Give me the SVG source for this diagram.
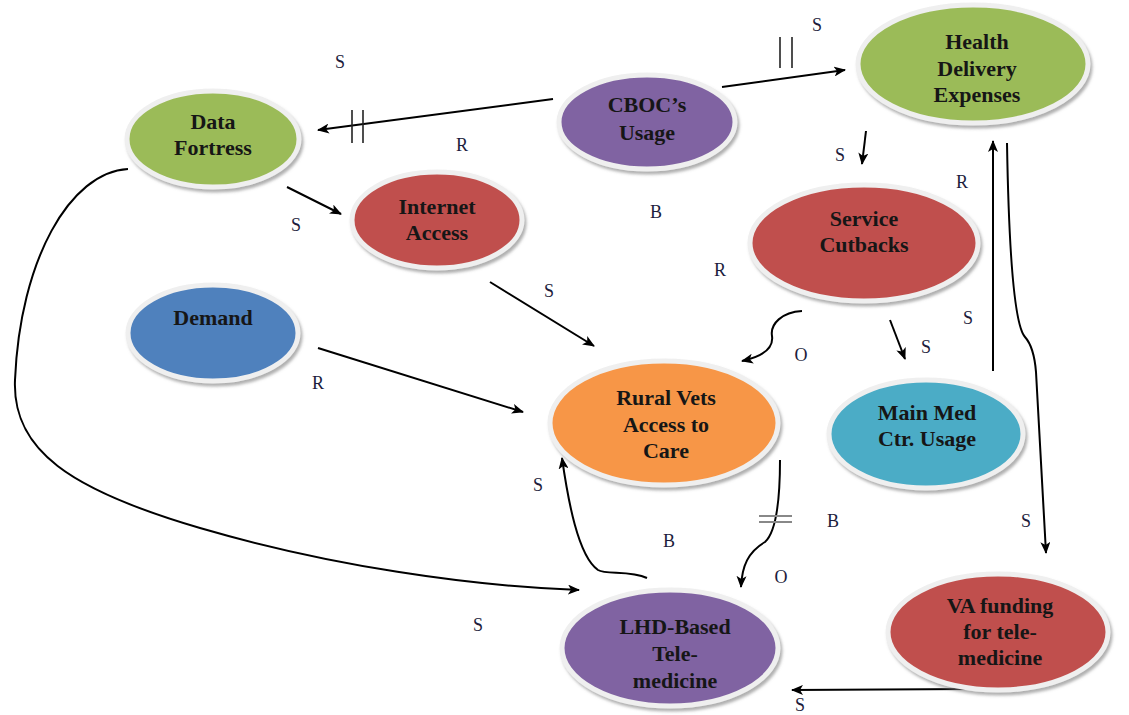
<svg xmlns="http://www.w3.org/2000/svg" width="1129" height="715" viewBox="0 0 1129 715">
<defs>
<marker id="ah" viewBox="0 0 12 10" refX="11" refY="5" markerWidth="12" markerHeight="10" markerUnits="userSpaceOnUse" orient="auto">
<path d="M0,0 L12,5 L0,10 L3,5 Z" fill="#000"/>
</marker>
<filter id="sh" x="-10%" y="-10%" width="125%" height="130%">
<feDropShadow dx="2" dy="3" stdDeviation="1.5" flood-color="#7a7a7a" flood-opacity="0.6"/>
</filter>
</defs>
<style>
.n{stroke:#efefef;stroke-width:5;filter:url(#sh)}
.t{font-family:"Liberation Serif","Times New Roman",serif;font-weight:bold;font-size:22px;fill:#161616;text-anchor:middle}
.l{font-family:"Liberation Serif","Times New Roman",serif;font-size:18px;fill:#1c1c3c;text-anchor:middle}
.c{fill:none;stroke:#000;stroke-width:2}
.h{stroke:#222;stroke-width:1.6}
</style>
<rect width="1129" height="715" fill="#fff"/>
<g id="connectors">
<path class="c" d="M553,99 L318,130" marker-end="url(#ah)"/>
<line class="h" x1="352" y1="110" x2="352" y2="143"/>
<line class="h" x1="363" y1="110" x2="363" y2="143"/>
<path class="c" d="M722,87 L845,70" marker-end="url(#ah)"/>
<line class="h" x1="780" y1="37" x2="780" y2="68"/>
<line class="h" x1="792" y1="37" x2="792" y2="68"/>
<path class="c" d="M287,187 L341,214" marker-end="url(#ah)"/>
<path class="c" d="M866,131 L862,164" marker-end="url(#ah)"/>
<path class="c" d="M490,282 L594,346" marker-end="url(#ah)"/>
<path class="c" d="M318,348 L523,412" marker-end="url(#ah)"/>
<path class="c" d="M802,311 C782,312 770,324 772,336 C774,350 760,357 742,361" marker-end="url(#ah)"/>
<path class="c" d="M890,320 L905,359" marker-end="url(#ah)"/>
<path class="c" d="M993,371 L993,141" marker-end="url(#ah)"/>
<path class="c" d="M1007,143 Q1010,320 1025,337 Q1034,347 1036,372 L1046,553" marker-end="url(#ah)"/>
<path class="c" d="M973,689 L792,690" marker-end="url(#ah)"/>
<path class="c" d="M780,460 C780,500 776,532 765,542 C748,552 742,566 741,587" marker-end="url(#ah)"/>
<line x1="759" y1="516" x2="792" y2="516" stroke="#888" stroke-width="2"/>
<line x1="759" y1="522" x2="792" y2="522" stroke="#888" stroke-width="2"/>
<path class="c" d="M647,578 C630,570 606,575 598,570 C578,556 568,500 562,458" marker-end="url(#ah)"/>
<path class="c" d="M128,169 C70,172 20,260 15,380 C12,450 70,490 200,528 C330,566 470,586 579,590" marker-end="url(#ah)"/>
</g>
<g id="data-fortress">
<ellipse class="n" cx="213" cy="139" rx="86" ry="48" fill="#9BBB59"/>
<text class="t" x="213" y="129">Data</text>
<text class="t" x="213" y="155">Fortress</text>
</g>
<g id="cboc-usage">
<ellipse class="n" cx="647" cy="122" rx="88" ry="47" fill="#8064A2"/>
<text class="t" x="647" y="112">CBOC’s</text>
<text class="t" x="647" y="140">Usage</text>
</g>
<g id="health-delivery-expenses">
<ellipse class="n" cx="973" cy="64" rx="115" ry="59" fill="#9BBB59"/>
<text class="t" x="977" y="49">Health</text>
<text class="t" x="977" y="76">Delivery</text>
<text class="t" x="977" y="102">Expenses</text>
</g>
<g id="internet-access">
<ellipse class="n" cx="437" cy="220" rx="85" ry="48" fill="#C0504D"/>
<text class="t" x="437" y="214">Internet</text>
<text class="t" x="437" y="240">Access</text>
</g>
<g id="service-cutbacks">
<ellipse class="n" cx="864" cy="243" rx="114" ry="58" fill="#C0504D"/>
<text class="t" x="864" y="226">Service</text>
<text class="t" x="864" y="252">Cutbacks</text>
</g>
<g id="demand">
<ellipse class="n" cx="213" cy="333" rx="85" ry="48" fill="#4F81BD"/>
<text class="t" x="213" y="325">Demand</text>
</g>
<g id="rural-vets-access">
<ellipse class="n" cx="664" cy="423" rx="114" ry="62" fill="#F79646"/>
<text class="t" x="666" y="405">Rural Vets</text>
<text class="t" x="666" y="432">Access to</text>
<text class="t" x="666" y="458">Care</text>
</g>
<g id="main-med-ctr-usage">
<ellipse class="n" cx="926" cy="434" rx="97" ry="54" fill="#4BACC6"/>
<text class="t" x="927" y="420">Main Med</text>
<text class="t" x="927" y="446">Ctr. Usage</text>
</g>
<g id="lhd-telemedicine">
<ellipse class="n" cx="670" cy="648" rx="108" ry="58" fill="#8064A2"/>
<text class="t" x="675" y="634">LHD-Based</text>
<text class="t" x="675" y="661">Tele-</text>
<text class="t" x="675" y="688">medicine</text>
</g>
<g id="va-funding">
<ellipse class="n" cx="998" cy="632" rx="110" ry="58" fill="#C0504D"/>
<text class="t" x="1000" y="613">VA funding</text>
<text class="t" x="1000" y="639">for tele-</text>
<text class="t" x="1000" y="665">medicine</text>
</g>
<g id="labels">
<text class="l" x="340" y="68">S</text>
<text class="l" x="817" y="31">S</text>
<text class="l" x="462" y="151">R</text>
<text class="l" x="840" y="161">S</text>
<text class="l" x="962" y="188">R</text>
<text class="l" x="656" y="218">B</text>
<text class="l" x="296" y="231">S</text>
<text class="l" x="720" y="276">R</text>
<text class="l" x="549" y="297">S</text>
<text class="l" x="968" y="324">S</text>
<text class="l" x="926" y="353">S</text>
<text class="l" x="801" y="361">O</text>
<text class="l" x="318" y="389">R</text>
<text class="l" x="538" y="491">S</text>
<text class="l" x="833" y="527">B</text>
<text class="l" x="669" y="547">B</text>
<text class="l" x="781" y="583">O</text>
<text class="l" x="1026" y="527">S</text>
<text class="l" x="478" y="631">S</text>
<text class="l" x="800" y="711">S</text>
</g>
</svg>
